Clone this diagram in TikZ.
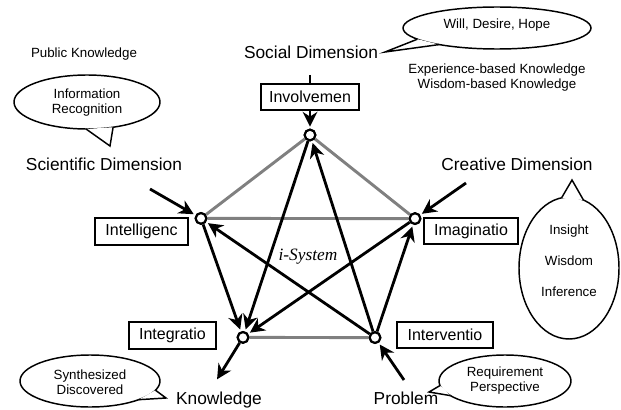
\documentclass[tikz,border=0pt]{standalone}
\usepackage{fontspec}
\setmainfont{Liberation Sans}
\newfontfamily\serifit{Liberation Serif}
\usetikzlibrary{shapes.geometric,arrows.meta}
\tikzset{
  vertex/.style={circle,draw=black,fill=white,line width=1.6pt,minimum size=8pt,inner sep=0pt},
  greyedge/.style={draw=black!50,line width=2.2pt},
  flow/.style={draw=black,line width=2.1pt,-{Stealth[length=11pt,width=11pt,inset=3.5pt]},shorten >=1.5pt},
  labelbox/.style={draw=black,fill=white,line width=1.4pt,inner sep=0pt,font=\fontsize{12}{14}\selectfont,anchor=center},
  dim/.style={font=\fontsize{13}{15}\selectfont,inner sep=0pt},
  note/.style={font=\fontsize{10}{11.3}\selectfont,align=center,inner sep=0pt},
  bubble/.style={ellipse,draw=black,line width=1.1pt,fill=white,inner sep=0pt,outer sep=0pt,note},
}
\newcommand{\tail}[3]{%
  \fill[white] (#1) -- (#2) -- (#3) -- cycle;
  \draw[line width=1.1pt,line join=miter] (#1) -- (#2) -- (#3);}
\begin{document}
\begin{tikzpicture}[x=0.75pt,y=-0.75pt]
\useasboundingbox (0,0) rectangle (621,410);
% vertices
\node[vertex] (T) at (310,135) {};
\node[vertex] (L) at (201,218.4) {};
\node[vertex] (R) at (415,218.6) {};
\node[vertex] (BL) at (243,337.4) {};
\node[vertex] (BR) at (375,337.6) {};
% free ends
\coordinate (sdtop) at (310,75);
\coordinate (sciS) at (150,189);
\coordinate (creS) at (466,183);
\coordinate (proS) at (404,380);
\coordinate (knoE) at (216,381);
% grey pentagon
\draw[greyedge] (T) -- (L);
\draw[greyedge] (T) -- (R);
\draw[greyedge] (L) -- (R);
\draw[greyedge] (BL) -- (BR);
% black star
\draw[flow] (BR) -- (T);
\draw[flow] (BR) -- (L);
\draw[flow] (BR) -- (R);
\draw[flow] (T) -- (BL);
\draw[flow] (L) -- (BL);
\draw[flow] (R) -- (BL);
% outer arrows
\draw[flow] (sdtop) -- (T);
\draw[flow] (sciS) -- (L);
\draw[flow] (creS) -- (R);
\draw[flow] (proS) -- (BR);
\draw[flow] (BL) -- (knoE);
% vertices on top
\node[vertex] at (T) {};
\node[vertex] at (L) {};
\node[vertex] at (R) {};
\node[vertex] at (BL) {};
\node[vertex] at (BR) {};
% boxes
\node[labelbox,minimum width=73.5pt,minimum height=19.5pt] (inv) at (310,97) {Involvemen};
\node[labelbox,minimum width=69.5pt,minimum height=20pt] (intl) at (141.5,231.5) {Intelligenc};
\node[labelbox,minimum width=65pt,minimum height=20pt] (intg) at (172.5,335.5) {Integratio};
\node[labelbox,minimum width=70.5pt,minimum height=20pt] (ima) at (471,231) {Imaginatio};
\node[labelbox,minimum width=72pt,minimum height=20pt] (intv) at (445,335) {Interventio};
% dimension labels
\node[dim] (sd) at (311,52) {Social Dimension};
\node[dim] (sc) at (104,164) {Scientific Dimension};
\node[dim] (cr) at (517,164) {Creative Dimension};
\node[dim] (kn) at (219,400) {Knowledge};
\node[dim] (pr) at (406,398) {Problem};
\node[font=\fontsize{13}{15}\selectfont\serifit\itshape,inner sep=0pt] (isys) at (308,257) {i-System};
% plain notes
\node[note] (pub) at (84,54) {Public Knowledge};
\node[note] (exp) at (497,78) {Experience-based Knowledge\\Wisdom-based Knowledge};
% bubbles
\node[bubble,minimum width=109.5pt,minimum height=40.5pt] (b1) at (87,102) {};
\tail{b1.268}{110,146}{b1.-44}
\node[note] (b1t) at (87,103) {Information\\Recognition};
\node[bubble,minimum width=141pt,minimum height=31.5pt] (b2) at (497,28) {};
\tail{b2.188}{385,52}{b2.196}
\node[note] (b2t) at (497,25) {Will, Desire, Hope};
\node[bubble,minimum width=75pt,minimum height=106.5pt] (b3) at (569,268) {};
\tail{b3.96}{572,180}{b3.78}
\node[note] (b3t) at (569,261) {Insight\\[12pt]Wisdom\\[12pt]Inference};
\node[bubble,minimum width=105pt,minimum height=39pt] (b4) at (90,381) {};
\tail{b4.-8}{166,398}{b4.-21}
\node[note] (b4t) at (90,382) {Synthesized\\Discovered};
\node[bubble,minimum width=99pt,minimum height=39pt] (b5) at (505,381) {};
\tail{b5.184}{429,392}{b5.195}
\node[note] (b5t) at (505,381) {Requirement\\Perspective};
\end{tikzpicture}
\end{document}
